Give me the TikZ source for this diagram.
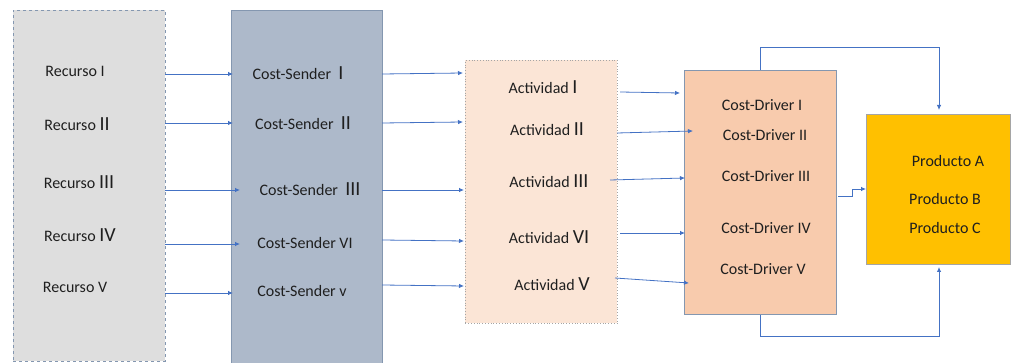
\documentclass[tikz,border=0pt]{standalone}
\usepackage{fontspec}
\setmainfont{Carlito}
\usetikzlibrary{arrows.meta}
\definecolor{arrc}{HTML}{4472C4}
\definecolor{gbord}{HTML}{8497B0}
\definecolor{txt}{HTML}{1F1F1F}
\newcommand{\bignum}[1]{{\fontsize{20}{21}\selectfont #1}}
\tikzset{
  box/.style={rectangle, inner sep=0pt, anchor=north west},
  lbl/.style={font=\fontsize{16}{18}\selectfont, text=txt, inner sep=0pt, anchor=base},
  arr/.style={draw=arrc, line width=0.8pt, -{Latex[length=5pt,width=4.5pt]}},
  ln/.style={draw=arrc, line width=0.8pt}
}
\begin{document}
\begin{tikzpicture}[x=1pt,y=-1pt]
\useasboundingbox (0,0) rectangle (1012,363);
% boxes
\node[box, fill={rgb,255:red,222;green,222;blue,222}, draw=gbord, dashed, line width=0.9pt, minimum width=152pt, minimum height=351pt] (b1) at (13,10) {};
\node[box, fill={rgb,255:red,173;green,185;blue,202}, draw=gbord, line width=0.8pt, minimum width=151pt, minimum height=355pt] (b2) at (231,10) {};
\node[box, fill={rgb,255:red,251;green,229;blue,214}, draw={rgb,255:red,165;green,165;blue,165}, dotted, line width=0.8pt, minimum width=152pt, minimum height=263pt] (b3) at (465,60) {};
\node[box, fill={rgb,255:red,248;green,203;blue,173}, draw=gbord, line width=0.8pt, minimum width=152pt, minimum height=244pt] (b4) at (684,70) {};
\node[box, fill={rgb,255:red,255;green,192;blue,0}, draw={rgb,255:red,165;green,165;blue,165}, line width=0.8pt, minimum width=144pt, minimum height=150pt] (b5) at (866,114) {};
% labels
\node[lbl] (r1) at (75,77) {Recurso I};
\node[lbl] (r2) at (77,131) {Recurso \bignum{II}};
\node[lbl] (r3) at (79,189) {Recurso \bignum{III}};
\node[lbl] (r4) at (80,242) {Recurso \bignum{IV}};
\node[lbl] (r5) at (75,293) {Recurso V};
\node[lbl] (s1) at (298,80) {Cost-Sender \ \bignum{I}};
\node[lbl] (s2) at (303,130) {Cost-Sender \ \bignum{II}};
\node[lbl] (s3) at (310,196) {Cost-Sender \ \bignum{III}};
\node[lbl] (s4) at (305,249) {Cost-Sender VI};
\node[lbl] (s5) at (302,297) {Cost-Sender v};
\node[lbl] (a1) at (543,94) {Actividad \bignum{I}};
\node[lbl] (a2) at (547,136) {Actividad \bignum{II}};
\node[lbl] (a3) at (549,188) {Actividad \bignum{III}};
\node[lbl] (a4) at (549,244) {Actividad \bignum{VI}};
\node[lbl] (a5) at (552,291) {Actividad \bignum{V}};
\node[lbl] (d1) at (762,111) {Cost-Driver I};
\node[lbl] (d2) at (765,141) {Cost-Driver II};
\node[lbl] (d3) at (766,182) {Cost-Driver III};
\node[lbl] (d4) at (766,234) {Cost-Driver IV};
\node[lbl] (d5) at (763,275) {Cost-Driver V};
\node[lbl] (p1) at (948,167) {Producto A};
\node[lbl] (p2) at (945,205) {Producto B};
\node[lbl] (p3) at (945,234) {Producto C};
% connector coordinates
\coordinate (rs1) at (165,74);  \coordinate (re1) at (233,74);
\coordinate (rs2) at (165,123); \coordinate (re2) at (233,123);
\coordinate (rs3) at (165,190); \coordinate (re3) at (240,190);
\coordinate (rs4) at (165,244); \coordinate (re4) at (240,244);
\coordinate (rs5) at (165,293); \coordinate (re5) at (233,293);
\coordinate (ss1) at (382,74);  \coordinate (se1) at (463,73);
\coordinate (ss2) at (382,123); \coordinate (se2) at (463,122);
\coordinate (ss3) at (382,190); \coordinate (se3) at (464,190);
\coordinate (ss4) at (382,240); \coordinate (se4) at (464,241);
\coordinate (ss5) at (382,285); \coordinate (se5) at (464,286);
\coordinate (as1) at (620,92);  \coordinate (ae1) at (680,93);
\coordinate (as2) at (617,133); \coordinate (ae2) at (693,131);
\coordinate (as3) at (610,180); \coordinate (ae3) at (685,178);
\coordinate (as4) at (620,233); \coordinate (ae4) at (685,233);
\coordinate (as5) at (615,278); \coordinate (ae5) at (689,283);
\coordinate (ds) at (838,196); \coordinate (dk) at (852,196); \coordinate (dk2) at (852,189);
\coordinate (tt) at (760,47); \coordinate (bt) at (760,336);
% connectors
\foreach \i in {1,...,5}{
  \draw[arr] (rs\i) -- (re\i);
  \draw[arr] (ss\i) -- (se\i);
  \draw[arr] (as\i) -- (ae\i);
}
\draw[arr] (ds) -- (dk) -- (dk2) -- (b5.west |- dk2);
\draw[arr] (b4.north -| tt) -- (tt) -- (tt -| 939,0) -- (939,110);
\draw[arr] (b4.south -| bt) -- (bt) -- (bt -| 939,0) -- (939,267);
\end{tikzpicture}
\end{document}
